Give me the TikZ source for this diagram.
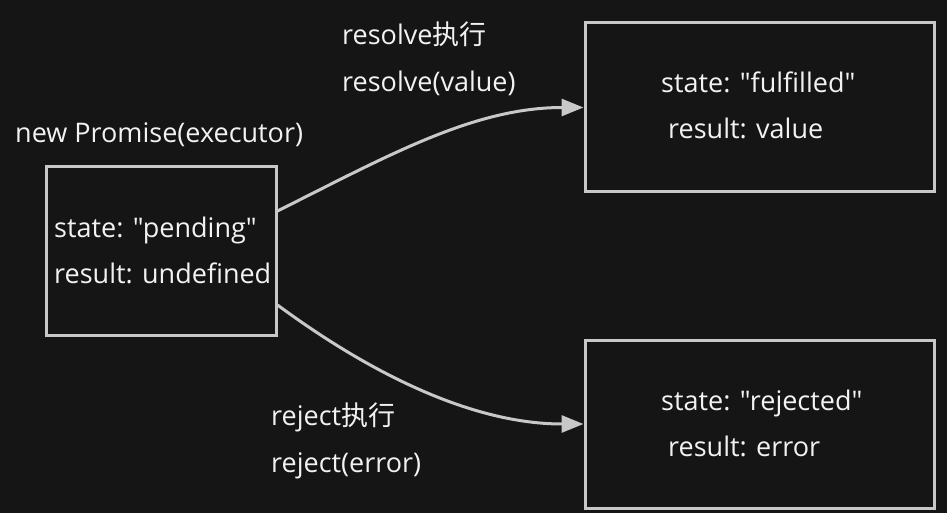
\documentclass[tikz,border=0pt]{standalone}
\usepackage{fontspec}
\setmainfont{Open Sans}[Ligatures=TeXOff]
\newfontfamily\cjk{Noto Sans CJK SC}
\usetikzlibrary{arrows.meta}
\definecolor{bg}{HTML}{151515}
\definecolor{edge}{HTML}{C8C8C8}
\definecolor{ink}{HTML}{F2F2F2}

\begin{document}
\begin{tikzpicture}[x=1pt,y=-1pt,
        box/.style={draw=edge, line width=3pt, inner sep=0pt},
        txt/.style={anchor=base west, inner sep=0pt, text=ink, font=\fontsize{27}{31}\selectfont},
        conn/.style={draw=edge, line width=3pt, -{Triangle[length=22pt,width=17pt]}}]
                \fill[bg] (0,0) rectangle (947,513);
                \useasboundingbox (0,0) rectangle (947,513);

                \node[box, minimum width=230pt, minimum height=168pt] (pending) at (161,251) {};
                \node[box, minimum width=349pt, minimum height=169pt] (fulfilled) at (759.5,107.5) {};
                \node[box, minimum width=349pt, minimum height=168pt] (rejected) at (759.5,424) {};

                \node[txt] (newlbl) at (15,143) {new Promise(executor)};
                \node[txt] (pstate) at (54,237) {state: "pending"};
                \node[txt] (presult) at (54,283) {result: undefined};

                \node[txt] (resexec) at (342,45) {resolve{\cjk 执行}};
                \node[txt] (rescall) at (342,92) {resolve(value)};
                \node[txt] (fstate) at (661,93) {state: "fulfilled"};
                \node[txt] (fresult) at (668,139) {result: value};

                \node[txt] (rejexec) at (271,425) {reject{\cjk 执行}};
                \node[txt] (rejcall) at (271,472) {reject(error)};
                \node[txt] (rstate) at (661,410) {state: "rejected"};
                \node[txt] (rresult) at (668,456) {result: error};

                \draw[conn] ([yshift=40pt]pending.east) .. controls +(110,-55) and +(-110,0) .. (fulfilled.west);
                \draw[conn] ([yshift=-54pt]pending.east) .. controls +(95,70) and +(-110,0) .. (rejected.west);
            \end{tikzpicture}
\end{document}
